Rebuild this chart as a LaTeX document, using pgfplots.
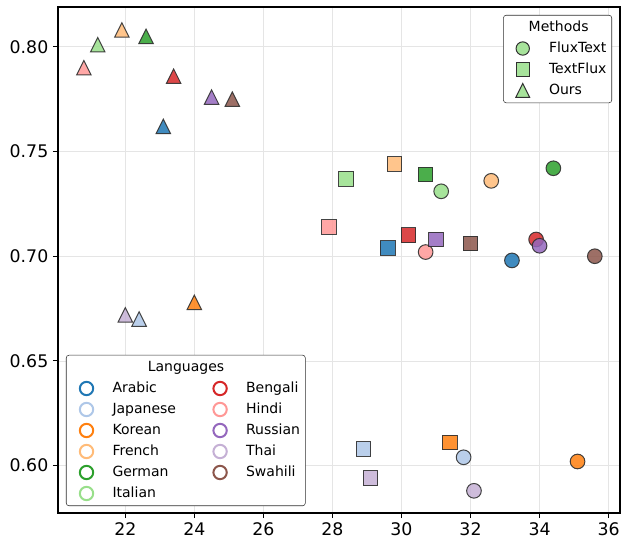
\documentclass[border=0pt]{standalone}
\usepackage{pgfplots}
\pgfplotsset{compat=1.18}
\usepackage{pgfplotstable}
\usepackage{fontspec}
\setmainfont{DejaVu Sans}

\definecolor{cAr}{HTML}{1F77B4}
\definecolor{cJa}{HTML}{AEC7E8}
\definecolor{cKo}{HTML}{FF7F0E}
\definecolor{cFr}{HTML}{FFBB78}
\definecolor{cDe}{HTML}{2CA02C}
\definecolor{cIt}{HTML}{98DF8A}
\definecolor{cBn}{HTML}{D62728}
\definecolor{cHi}{HTML}{FF9896}
\definecolor{cRu}{HTML}{9467BD}
\definecolor{cTh}{HTML}{C5B0D5}
\definecolor{cSw}{HTML}{8C564B}
\definecolor{edge}{HTML}{303030}

\pgfdeclareplotmark{mtri}{%
  \pgfpathmoveto{\pgfqpoint{0pt}{\pgfplotmarksize}}%
  \pgfpathlineto{\pgfqpoint{\pgfplotmarksize}{-\pgfplotmarksize}}%
  \pgfpathlineto{\pgfqpoint{-\pgfplotmarksize}{-\pgfplotmarksize}}%
  \pgfpathclose
  \pgfusepathqfillstroke}

\pgfplotstableread{
x y lang
33.2 0.698 ar
31.8 0.604 ja
35.1 0.602 ko
32.6 0.736 fr
34.4 0.742 de
31.15 0.731 it
33.9 0.708 bn
30.7 0.702 hi
34.0 0.705 ru
32.1 0.588 th
35.6 0.700 sw
}\fluxtext

\pgfplotstableread{
x y lang
29.6 0.704 ar
28.9 0.608 ja
31.4 0.611 ko
29.8 0.744 fr
30.7 0.739 de
28.4 0.737 it
30.2 0.710 bn
27.9 0.714 hi
31.0 0.708 ru
29.1 0.594 th
32.0 0.706 sw
}\textflux

\pgfplotstableread{
x y lang
23.1 0.762 ar
22.4 0.670 ja
24.0 0.678 ko
21.9 0.808 fr
22.6 0.805 de
21.2 0.801 it
23.4 0.786 bn
20.8 0.790 hi
24.5 0.776 ru
22.0 0.672 th
25.1 0.775 sw
}\ours

\pgfplotsset{
  langclasses/.style={
    scatter, only marks, forget plot,
    scatter src=explicit symbolic,
    mark options={draw=edge, line width=0.75pt, fill opacity=0.85, draw opacity=0.9},
    scatter/classes={
      ar={fill=cAr}, ja={fill=cJa}, ko={fill=cKo}, fr={fill=cFr},
      de={fill=cDe}, it={fill=cIt}, bn={fill=cBn}, hi={fill=cHi},
      ru={fill=cRu}, th={fill=cTh}, sw={fill=cSw}}
  },
  mylegend/.style={
    legend style={
      draw=edge, fill=white, rounded corners=2pt, inner sep=2.5pt,
      font=\fontsize{10.5}{12}\selectfont,
      nodes={inner sep=1.5pt, text height=8pt, text depth=2.4pt},
      row sep=2.35pt,
      legend cell align=left,
    }
  },
}

\begin{document}
\begin{tikzpicture}
\begin{axis}[
  name=ax,
  width=421.5pt, height=379.5pt, scale only axis,
  xmin=20.05, xmax=36.33, ymin=0.5774, ymax=0.819,
  xtick={22,24,26,28,30,32,34,36},
  ytick={0.6,0.65,0.7,0.75,0.8},
  yticklabel style={/pgf/number format/.cd, fixed, fixed zerofill, precision=2},
  /pgf/number format/assume math mode=true,
  ticklabel style={font=\fontsize{13}{15}\selectfont},
  tick align=outside, tick pos=left,
  major tick length=3.75pt,
  tick style={black, line width=0.8pt},
  axis line style={black, line width=0.8pt},
  grid=major, grid style={line width=0.6pt, draw=black!10},
  mylegend,
  legend columns=2,
  legend style={at={(rel axis cs:0.0142,0.0138)}, anchor=south west,
    /tikz/every odd column/.append style={column sep=11.8pt},
    /tikz/every even column/.append style={column sep=18.8pt}},
  legend image code/.code={%
    \draw[#1] plot coordinates {(0pt,0pt)};
    \path (-12.5pt,0pt) (6pt,0pt);},
]
\addplot[langclasses, mark=*, mark size=5.5pt] table[meta=lang] {\fluxtext};
\addplot[langclasses, mark=square*, mark size=5.5pt] table[meta=lang] {\textflux};
\addplot[langclasses, mark=mtri, mark size=5.4pt] table[meta=lang] {\ours};

\addlegendimage{empty legend}\addlegendentry{\makebox[0pt][l]{\hspace*{26.5pt}Languages}}
\addlegendimage{empty legend}\addlegendentry{}
\addlegendimage{only marks, mark=o, mark size=5pt, cAr, mark options={line width=1.5pt}}\addlegendentry{Arabic}
\addlegendimage{only marks, mark=o, mark size=5pt, cBn, mark options={line width=1.5pt}}\addlegendentry{Bengali}
\addlegendimage{only marks, mark=o, mark size=5pt, cJa, mark options={line width=1.5pt}}\addlegendentry{Japanese}
\addlegendimage{only marks, mark=o, mark size=5pt, cHi, mark options={line width=1.5pt}}\addlegendentry{Hindi}
\addlegendimage{only marks, mark=o, mark size=5pt, cKo, mark options={line width=1.5pt}}\addlegendentry{Korean}
\addlegendimage{only marks, mark=o, mark size=5pt, cRu, mark options={line width=1.5pt}}\addlegendentry{Russian}
\addlegendimage{only marks, mark=o, mark size=5pt, cFr, mark options={line width=1.5pt}}\addlegendentry{French}
\addlegendimage{only marks, mark=o, mark size=5pt, cTh, mark options={line width=1.5pt}}\addlegendentry{Thai}
\addlegendimage{only marks, mark=o, mark size=5pt, cDe, mark options={line width=1.5pt}}\addlegendentry{German}
\addlegendimage{only marks, mark=o, mark size=5pt, cSw, mark options={line width=1.5pt}}\addlegendentry{Swahili}
\addlegendimage{only marks, mark=o, mark size=5pt, cIt, mark options={line width=1.5pt}}\addlegendentry{Italian}
\end{axis}

\begin{axis}[
  width=421.5pt, height=379.5pt, scale only axis, hide axis,
  xmin=20.05, xmax=36.33, ymin=0.5774, ymax=0.819,
  mylegend,
  legend style={at={(rel axis cs:0.9858,0.9842)}, anchor=north east,
    /tikz/every odd column/.append style={column sep=12pt}},
  legend image code/.code={%
    \draw[#1] plot coordinates {(0pt,0pt)};
    \path (-11.75pt,0pt) (6pt,0pt);},
]
\addlegendimage{empty legend}\addlegendentry{\makebox[0pt][l]{\hspace*{-15.2pt}Methods}}
\addlegendimage{only marks, mark=*, mark size=5pt, mark options={fill=cIt, fill opacity=0.85, draw=edge, line width=0.75pt}}\addlegendentry{FluxText}
\addlegendimage{only marks, mark=square*, mark size=5pt, mark options={fill=cIt, fill opacity=0.85, draw=edge, line width=0.75pt}}\addlegendentry{TextFlux}
\addlegendimage{only marks, mark=mtri, mark size=5.2pt, mark options={fill=cIt, fill opacity=0.85, draw=edge, line width=0.75pt}}\addlegendentry{Ours}
\end{axis}

\path (ax.south west) ++(-43.5pt,-18.75pt);
\path (ax.north east) ++(3.75pt,5.25pt);
\end{tikzpicture}
\end{document}
